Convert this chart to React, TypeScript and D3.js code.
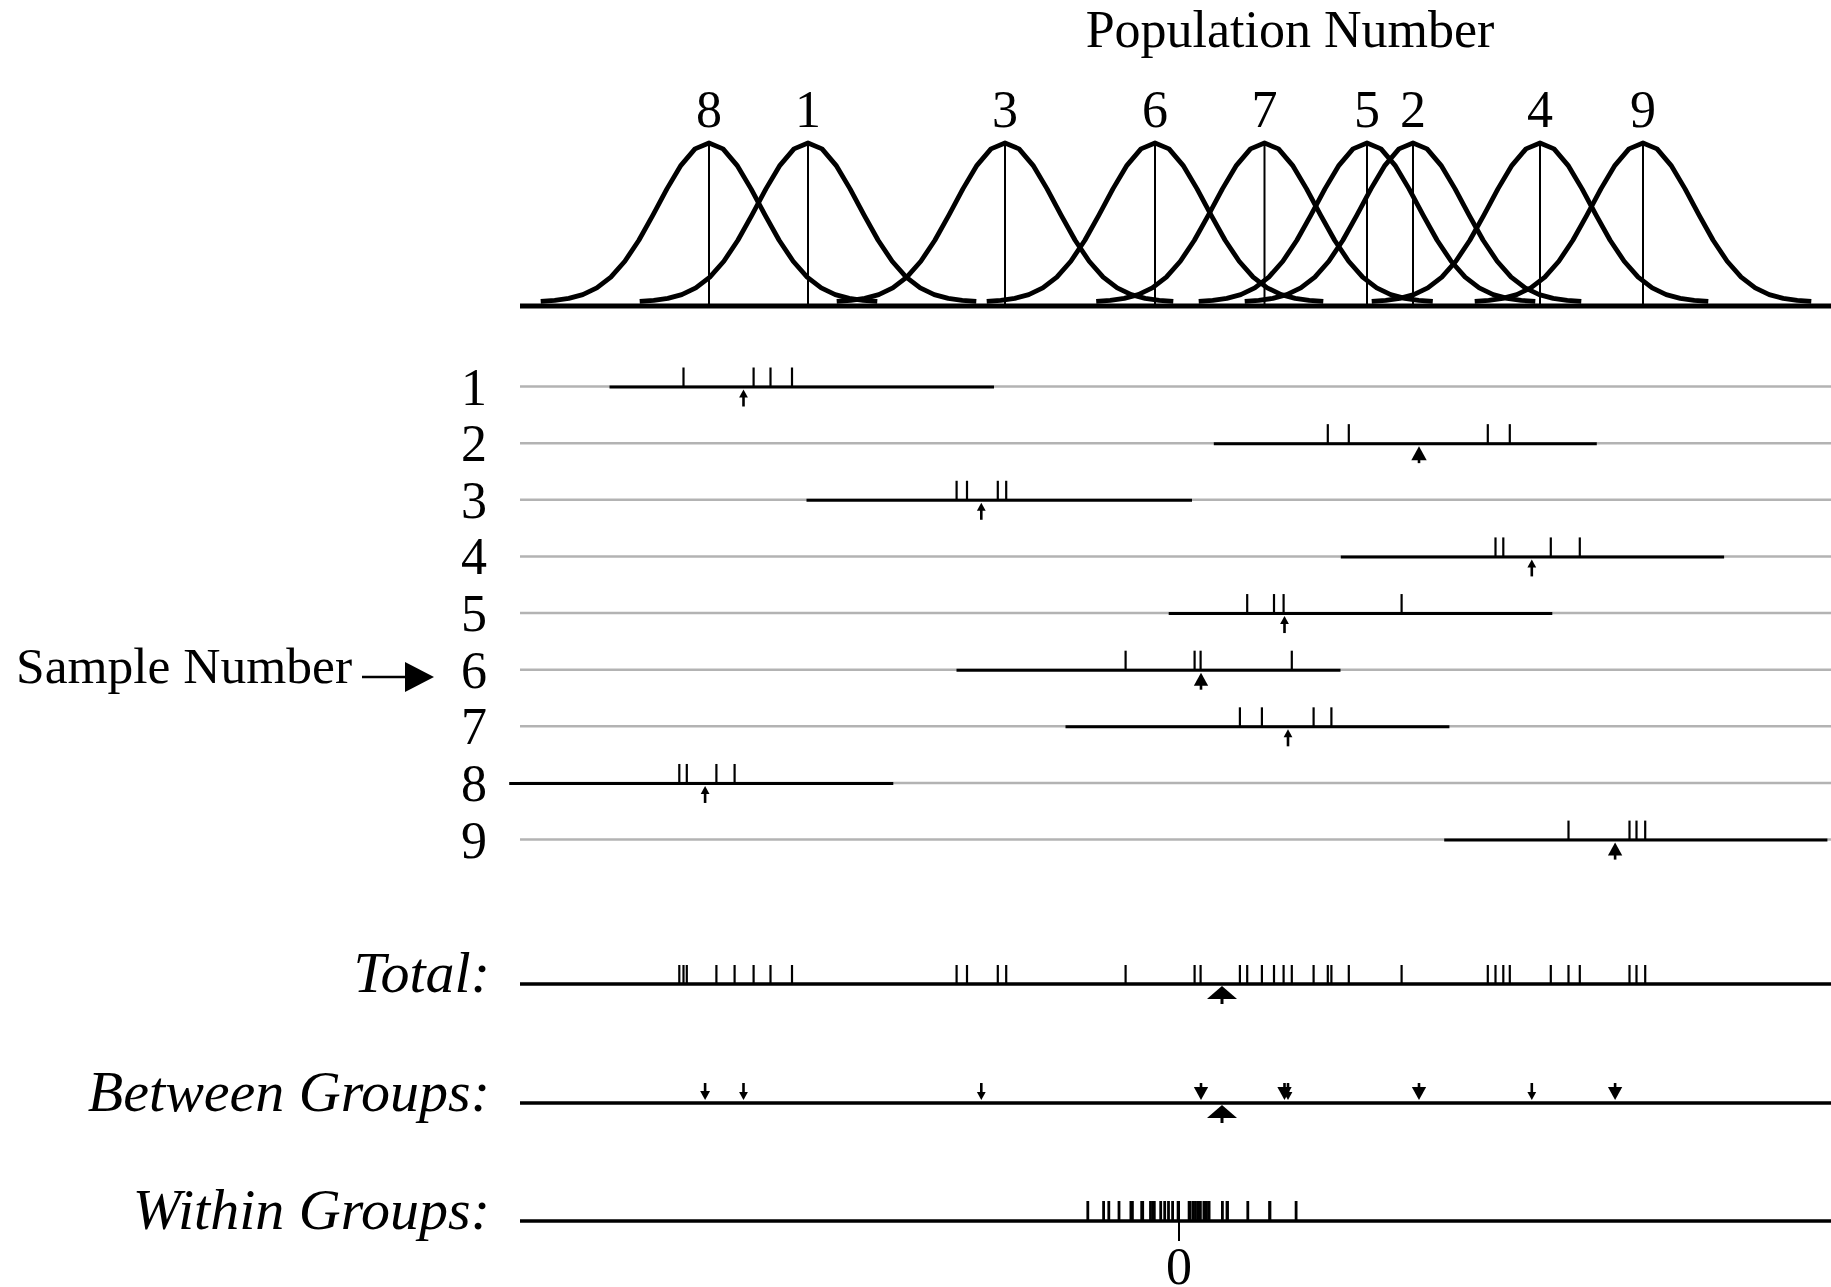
import React, { useEffect, useRef } from 'react';
import * as d3 from 'd3';

// populations (label order left to right) and their means, common sd
const populationLabels = ['8', '1', '3', '6', '7', '5', '2', '4', '9'];
const populationMeans = [-47.0, -37.1, -17.4, -2.4, 8.55, 18.8, 23.4, 36.1, 46.4];
const populationSd = 5.1;

// samples 1..9
const sampleNumbers = ['1', '2', '3', '4', '5', '6', '7', '8', '9'];
const rangeStart = [-56.95, 3.48, -37.25, 16.18, -1.03, -22.25, -11.35, -66.98, 26.52];
const rangeEnd = [-18.5, 41.78, 1.3, 54.51, 37.33, 16.15, 27.04, -28.57, 64.84];
const sample1 = [-49.55, -42.54, -40.85, -38.7];
const sample2 = [14.88, 16.98, 30.88, 33.08];
const sample3 = [-22.24, -21.2, -18.12, -17.28];
const sample4 = [31.65, 32.43, 37.18, 40.08];
const sample5 = [6.82, 9.5, 10.46, 22.26];
const sample6 = [-5.34, 1.56, 2.16, 11.28];
const sample7 = [6.09, 8.29, 13.46, 15.24];
const sample8 = [-49.97, -49.22, -46.26, -44.44];
const sample9 = [38.95, 45.05, 45.75, 46.62];
const samples = [sample1, sample2, sample3, sample4, sample5, sample6, sample7, sample8, sample9];
const sampleMeans = [-43.55, 24.0, -19.77, 35.28, 10.55, 2.2, 10.9, -47.39, 43.61];
const grandMean = 4.3;

// arrowhead sizes as they appear (rows, between groups)
const rowHead = [8, 14, 8, 8, 8, 13, 8, 8, 13];
const betweenHead = [8, 13, 8, 8, 13, 13, 8, 9, 13];

const FONT = '"Liberation Serif", "Times New Roman", serif';

function App() {
  const ref = useRef<SVGSVGElement>(null);

  useEffect(() => {
    const svg = d3.select(ref.current);
    svg.selectAll('*').remove();

    const x = d3.scaleLinear().domain([-66, 65.2]).range([519, 1831]);
    const yCurve = d3.scaleLinear().domain([0, 1]).range([302, 143]);
    const yRow = d3.scalePoint<string>().domain(sampleNumbers).range([386.5, 839.6]);

    // ---- population curves
    svg.append('text')
      .attr('x', 1290).attr('y', 47)
      .attr('text-anchor', 'middle')
      .attr('font-size', 52)
      .text('Population Number');

    const curve = d3.line<number[]>().x(d => x(d[0])).y(d => yCurve(d[1]));
    const n = 24;
    populationMeans.forEach((m, i) => {
      const pts: number[][] = [];
      for (let k = 0; k <= n; k++) {
        const t = -3.3 + (6.6 * k) / n;
        pts.push([m + t * populationSd, Math.exp(-t * t / 2)]);
      }
      svg.append('path')
        .attr('d', curve(pts))
        .attr('fill', 'none')
        .attr('stroke', '#000')
        .attr('stroke-width', 4.8)
        .attr('stroke-linejoin', 'round');
      svg.append('line')
        .attr('x1', x(m)).attr('x2', x(m))
        .attr('y1', yCurve(1)).attr('y2', 305)
        .attr('stroke', '#000').attr('stroke-width', 2);
      svg.append('text')
        .attr('x', x(m)).attr('y', 126.5)
        .attr('text-anchor', 'middle')
        .attr('font-size', 52)
        .text(populationLabels[i]);
    });
    svg.append('line')
      .attr('x1', 520).attr('x2', 1831)
      .attr('y1', 306).attr('y2', 306)
      .attr('stroke', '#000').attr('stroke-width', 5);

    const upArrow = (cx: number, y: number, h: number, len: number) => {
      svg.append('line')
        .attr('x1', cx).attr('x2', cx)
        .attr('y1', y + 3 + h - 1).attr('y2', y + len)
        .attr('stroke', '#000').attr('stroke-width', 2.6);
      svg.append('path')
        .attr('d', `M${cx},${y + 3}L${cx + h * 0.55},${y + 3 + h}L${cx - h * 0.55},${y + 3 + h}Z`)
        .attr('fill', '#000');
    };
    const downArrow = (cx: number, y: number, h: number, len: number) => {
      svg.append('line')
        .attr('x1', cx).attr('x2', cx)
        .attr('y1', y - len).attr('y2', y - 3 - h + 1)
        .attr('stroke', '#000').attr('stroke-width', 2.6);
      svg.append('path')
        .attr('d', `M${cx},${y - 3}L${cx + h * 0.55},${y - 3 - h}L${cx - h * 0.55},${y - 3 - h}Z`)
        .attr('fill', '#000');
    };

    // ---- sample rows
    sampleNumbers.forEach((s, i) => {
      const y = yRow(s) as number;
      svg.append('line')
        .attr('x1', 520).attr('x2', 1831)
        .attr('y1', y).attr('y2', y)
        .attr('stroke', '#b3b3b3').attr('stroke-width', 2.5);
      svg.append('line')
        .attr('x1', x(rangeStart[i])).attr('x2', x(rangeEnd[i]))
        .attr('y1', y + 0.5).attr('y2', y + 0.5)
        .attr('stroke', '#000').attr('stroke-width', 3);
      svg.selectAll(null)
        .data(samples[i])
        .enter()
        .append('line')
        .attr('x1', d => x(d)).attr('x2', d => x(d))
        .attr('y1', y - 19).attr('y2', y)
        .attr('stroke', '#000').attr('stroke-width', 2.2);
      upArrow(x(sampleMeans[i]), y, rowHead[i], 20);
      svg.append('text')
        .attr('x', 474).attr('y', y + 18)
        .attr('text-anchor', 'middle')
        .attr('font-size', 52)
        .text(s);
    });

    svg.append('text')
      .attr('x', 16).attr('y', 683)
      .attr('font-size', 51.5)
      .text('Sample Number');
    svg.append('line')
      .attr('x1', 362).attr('x2', 408)
      .attr('y1', 677).attr('y2', 677)
      .attr('stroke', '#000').attr('stroke-width', 2.5);
    svg.append('path')
      .attr('d', 'M405,662L434,677L405,692Z')
      .attr('fill', '#000');

    // ---- total / between / within
    const rows = [
      { label: 'Total:', y: 984 },
      { label: 'Between Groups:', y: 1103 },
      { label: 'Within Groups:', y: 1221 },
    ];
    rows.forEach(r => {
      svg.append('line')
        .attr('x1', 520).attr('x2', 1831)
        .attr('y1', r.y).attr('y2', r.y)
        .attr('stroke', '#000').attr('stroke-width', 3.5);
      svg.append('text')
        .attr('x', 490).attr('y', r.y + 8)
        .attr('text-anchor', 'end')
        .attr('font-size', 58)
        .attr('font-style', 'italic')
        .text(r.label);
    });

    const all = samples.flat();
    svg.selectAll(null)
      .data(all)
      .enter()
      .append('line')
      .attr('x1', d => x(d)).attr('x2', d => x(d))
      .attr('y1', rows[0].y - 19).attr('y2', rows[0].y)
      .attr('stroke', '#000').attr('stroke-width', 2.2);

    const bigArrow = (y: number) => {
      const cx = x(grandMean);
      svg.append('line')
        .attr('x1', cx).attr('x2', cx)
        .attr('y1', y + 14).attr('y2', y + 20)
        .attr('stroke', '#000').attr('stroke-width', 3);
      svg.append('path')
        .attr('d', `M${cx},${y + 2}L${cx + 15},${y + 15}L${cx - 15},${y + 15}Z`)
        .attr('fill', '#000');
    };
    bigArrow(rows[0].y);

    sampleMeans.forEach((m, i) => downArrow(x(m), rows[1].y, betweenHead[i], 20));
    bigArrow(rows[1].y);

    const within = samples.flatMap((s, i) => s.map(v => v - sampleMeans[i]));
    svg.selectAll(null)
      .data(within)
      .enter()
      .append('line')
      .attr('x1', d => x(d)).attr('x2', d => x(d))
      .attr('y1', rows[2].y - 20).attr('y2', rows[2].y)
      .attr('stroke', '#000').attr('stroke-width', 2.8);
    svg.append('line')
      .attr('x1', x(0)).attr('x2', x(0))
      .attr('y1', rows[2].y).attr('y2', rows[2].y + 20)
      .attr('stroke', '#000').attr('stroke-width', 2);
    svg.append('text')
      .attr('x', x(0)).attr('y', 1284)
      .attr('text-anchor', 'middle')
      .attr('font-size', 52)
      .text('0');
  }, []);

  return (
    <svg
      ref={ref}
      width={1831}
      height={1287}
      style={{ position: 'absolute', left: 0, top: 0, background: '#fff', fontFamily: FONT }}
    />
  );
}

export default App;
